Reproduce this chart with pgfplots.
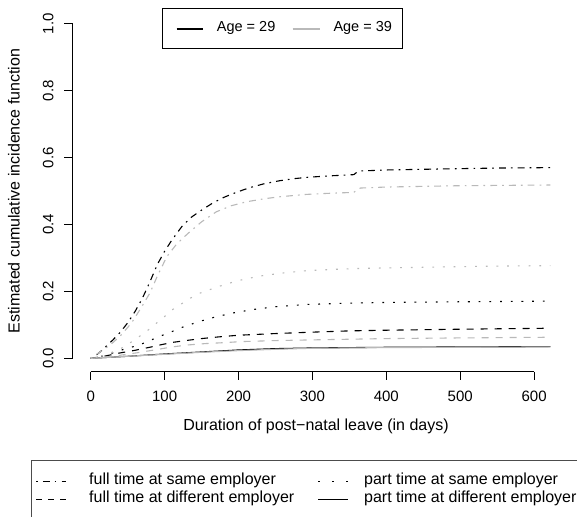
\documentclass[border=0pt]{standalone}
\usepackage{pgfplots}
\pgfplotsset{compat=1.18}
\usepackage{fontspec}
\setmainfont{Liberation Sans}
\definecolor{rgrey}{RGB}{185,185,185}
\tikzset{
  ddash/.style={dash pattern=on 1.7pt off 5.1pt on 6.8pt off 5.1pt},
  rdash/.style={dash pattern=on 7pt off 7pt},
  rdashleg/.style={dash pattern=on 6pt off 6pt},
  rdot/.style={dash pattern=on 1.8pt off 8.9pt},
  rdotleg/.style={dash pattern=on 1.8pt off 12.3pt},
  big/.style={font=\fontsize{16}{19}\selectfont},
  leg/.style={font=\fontsize{14.5}{17}\selectfont},
}
\begin{document}
\begin{tikzpicture}[x=1pt,y=1pt,every node/.style={font=\fontsize{15}{18}\selectfont,inner sep=0pt}]
\useasboundingbox (0,0) rectangle (577,516);
\clip (0,0) rectangle (577,516);
\begin{axis}[at={(72.7pt,144.3pt)}, anchor=south west, scale only axis,
  width=486.8pt, height=361.3pt,
  xmin=-24.4, xmax=634.4, ymin=-0.04, ymax=1.04,
  hide axis, clip=false,
  every axis plot/.append style={line width=1.1pt, line join=round}]
% black (age 29)
\addplot[black, ddash] coordinates {(0,0)(6,0.007)(12.6,0.019)(20,0.034)(30,0.055)(40,0.078)(50,0.106)(60,0.14)(70,0.18)(80,0.228)(90,0.28)(100,0.32)(110,0.354)(123,0.393)(135,0.42)(150,0.443)(165,0.464)(180,0.481)(198,0.497)(215,0.510)(235,0.522)(256,0.531)(275,0.537)(293,0.541)(320,0.545)(356,0.549)(360,0.556)(365,0.560)(400,0.563)(450,0.565)(500,0.567)(560,0.569)(622,0.570)};
\addplot[black, rdot] coordinates {(0,0)(20,0.009)(42,0.025)(55,0.033)(69,0.043)(82,0.055)(95,0.067)(110,0.08)(123,0.092)(136,0.102)(150,0.112)(166,0.122)(191,0.135)(220,0.146)(249,0.154)(292,0.161)(350,0.165)(400,0.167)(500,0.169)(622,0.171)};
\addplot[black, rdash] coordinates {(0,0)(20,0.007)(37,0.015)(60,0.024)(82,0.034)(96,0.041)(112,0.048)(132,0.054)(150,0.059)(173,0.064)(200,0.069)(250,0.074)(297,0.078)(350,0.082)(400,0.084)(500,0.087)(622,0.090)};
\addplot[black] coordinates {(0,0)(50,0.006)(100,0.013)(150,0.019)(200,0.025)(250,0.029)(300,0.031)(400,0.033)(500,0.034)(622,0.035)};
% grey (age 39)
\addplot[rgrey, ddash] coordinates {(0,0)(10,0.015)(20,0.03)(30,0.047)(40,0.067)(55,0.105)(65,0.14)(72,0.165)(80,0.195)(90,0.245)(103,0.304)(115,0.338)(125,0.36)(134,0.378)(150,0.408)(170,0.438)(190,0.456)(211,0.468)(235,0.477)(256,0.483)(292,0.490)(320,0.493)(356,0.496)(360,0.503)(365,0.509)(400,0.512)(450,0.514)(500,0.516)(560,0.517)(622,0.518)};
\addplot[rgrey, rdot] coordinates {(0,0)(20,0.01)(40,0.028)(53,0.046)(65,0.064)(78,0.085)(90,0.107)(100,0.125)(111,0.146)(123,0.163)(135,0.18)(148,0.195)(162,0.206)(175,0.216)(190,0.226)(205,0.235)(229,0.246)(260,0.255)(292,0.262)(330,0.266)(370,0.269)(420,0.271)(500,0.274)(560,0.276)(622,0.277)};
\addplot[rgrey, rdash] coordinates {(0,0)(30,0.006)(64,0.017)(89,0.026)(110,0.034)(132,0.040)(155,0.044)(182,0.047)(204,0.050)(250,0.053)(297,0.055)(400,0.059)(500,0.061)(622,0.063)};
\addplot[rgrey] coordinates {(0,0)(50,0.006)(100,0.012)(150,0.018)(200,0.023)(250,0.027)(300,0.030)(400,0.032)(500,0.033)(622,0.034)};
% axes (R style, detached)
\draw[black, line width=0.9pt] (axis cs:0,-0.04) -- (axis cs:600,-0.04);
\draw[black, line width=0.9pt] (axis cs:-24.4,0) -- (axis cs:-24.4,1);
\pgfplotsinvokeforeach{0,100,200,300,400,500,600}{
  \draw[black, line width=0.9pt] (axis cs:#1,-0.04) -- ++(0pt,-8.5pt);
  \node at ([yshift=-25pt]axis cs:#1,-0.04) {#1};
}
\pgfplotsinvokeforeach{0,0.2,0.4,0.6,0.8,1}{
  \draw[black, line width=0.9pt] (axis cs:-24.4,#1) -- ++(-8.5pt,0pt);
}
\node[rotate=90] at ([xshift=-24.4pt]axis cs:-24.4,0) {0.0};
\node[rotate=90] at ([xshift=-24.4pt]axis cs:-24.4,0.2) {0.2};
\node[rotate=90] at ([xshift=-24.4pt]axis cs:-24.4,0.4) {0.4};
\node[rotate=90] at ([xshift=-24.4pt]axis cs:-24.4,0.6) {0.6};
\node[rotate=90] at ([xshift=-24.4pt]axis cs:-24.4,0.8) {0.8};
\node[rotate=90] at ([xshift=-24.4pt]axis cs:-24.4,1) {1.0};
\end{axis}
% axis titles
\node[big] at (316,90) {Duration of post\textminus natal leave (in days)};
\node[big,rotate=90] at (14,325) {Estimated cumulative incidence function};
% top legend
\draw[black, line width=0.8pt, fill=white] (162.7,467.7) rectangle (402.7,507.7);
\draw[black, line width=1.1pt] (176.7,487) -- (203.3,487);
\node[leg,anchor=mid west] at (216.7,487) {Age = 29};
\draw[rgrey, line width=1.1pt] (292.7,487) -- (320,487);
\node[leg,anchor=mid west] at (333.3,487) {Age = 39};
% bottom legend
\draw[black!70, line width=0.8pt] (31,-20) rectangle (620,56);
\draw[black, line width=1.1pt, ddash] (36,34.5) -- (66,34.5);
\node[big,anchor=mid west] at (89,34.5) {full time at same employer};
\draw[black, line width=1.1pt, rdashleg] (36,16.5) -- (66,16.5);
\node[big,anchor=mid west] at (89,16.5) {full time at different employer};
\draw[black, line width=1.1pt, rdotleg] (318,34.5) -- (350,34.5);
\node[big,anchor=mid west] at (364,34.5) {part time at same employer};
\draw[black, line width=1.1pt] (318,16.5) -- (348,16.5);
\node[big,anchor=mid west] at (364,16.5) {part time at different employer};
\end{tikzpicture}
\end{document}
